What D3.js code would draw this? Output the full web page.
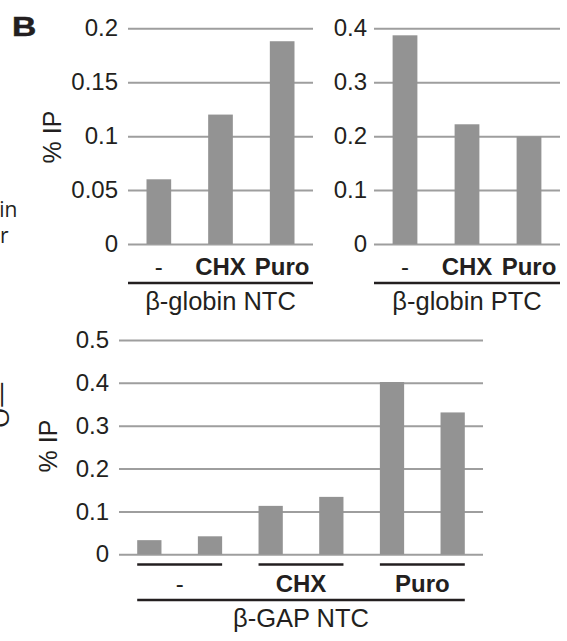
<!DOCTYPE html>
<html>
<head>
<meta charset="utf-8">
<script src="https://cdn.jsdelivr.net/npm/d3@7"></script>
<style>
  html, body { margin: 0; padding: 0; background: #fff; }
  svg { display: block; }
  text { font-family: "Liberation Sans", Arial, Helvetica, sans-serif; fill: #231f20; }
</style>
</head>
<body>
<svg id="chart" width="567" height="641"></svg>
<script>
// ---------- data ----------
const globinCategories = ["-", "CHX", "Puro"];
const globinNtcValues = [0.06, 0.12, 0.188];
const globinPtcValues = [0.387, 0.222, 0.199];
const ntcTicks = [0, 0.05, 0.1, 0.15, 0.2];
const ntcTickLabels = ["0", "0.05", "0.1", "0.15", "0.2"];
const ptcTicks = [0, 0.1, 0.2, 0.3, 0.4];
const ptcTickLabels = ["0", "0.1", "0.2", "0.3", "0.4"];
const gapGroups = ["-", "CHX", "Puro"];
const gapBars = ["-a", "-b", "CHX-a", "CHX-b", "Puro-a", "Puro-b"];
const gapValues = [0.033, 0.042, 0.113, 0.134, 0.402, 0.331];
const gapTicks = [0, 0.1, 0.2, 0.3, 0.4, 0.5];
const gapTickLabels = ["0", "0.1", "0.2", "0.3", "0.4", "0.5"];
const groupTitles = ["β-globin NTC", "β-globin PTC", "β-GAP NTC"];
const yTitle = "% IP";
const panelLetter = "B";

// ---------- styles ----------
const BAR = "#939393", GRID = "#9e9e9e", INK = "#231f20";
const svg = d3.select("#chart");

function panel(opts) {
  const { cats, values, ticks, labels, x0, x1, yTop, yBottom, domainMax, pad } = opts;
  const x = d3.scaleBand().domain(cats).range([x0, x1]).paddingInner(0.6).paddingOuter(0.3);
  const y = d3.scaleLinear().domain([0, domainMax]).range([yBottom, yTop]);
  const g = svg.append("g");
  const axis = d3.axisLeft(y).tickValues(ticks)
    .tickFormat((d, i) => labels[i])
    .tickSize(-(x1 - x0)).tickPadding(pad);
  const ax = g.append("g").attr("transform", `translate(${x0},0)`).call(axis);
  ax.select(".domain").remove();
  ax.selectAll(".tick line").attr("stroke", GRID).attr("stroke-width", 2);
  ax.selectAll(".tick text")
    .attr("font-size", 24).attr("fill", INK)
    .style("font-family", '"Liberation Sans", Arial, sans-serif');
  g.selectAll("rect.bar").data(values).join("rect")
    .attr("class", "bar")
    .attr("x", (d, i) => x(cats[i]))
    .attr("width", x.bandwidth())
    .attr("y", d => y(d))
    .attr("height", d => y(0) - y(d))
    .attr("fill", BAR);
  return { x, y, g };
}

// Panel 1: beta-globin NTC
const p1 = panel({ cats: globinCategories, values: globinNtcValues, ticks: ntcTicks, labels: ntcTickLabels,
  x0: 128, x1: 313, yTop: 28.3, yBottom: 244, domainMax: 0.2, pad: 10 });
// Panel 2: beta-globin PTC
const p2 = panel({ cats: globinCategories, values: globinPtcValues, ticks: ptcTicks, labels: ptcTickLabels,
  x0: 374, x1: 560, yTop: 28.3, yBottom: 244, domainMax: 0.4, pad: 7 });
// Panel 3: beta-GAP NTC
const p3 = panel({ cats: gapBars, values: gapValues, ticks: gapTicks, labels: gapTickLabels,
  x0: 119, x1: 483, yTop: 340, yBottom: 554.3, domainMax: 0.5, pad: 10 });

// Category labels + group lines for panels 1 and 2
[[p1, 128, 313, groupTitles[0]], [p2, 374, 560, groupTitles[1]]].forEach(([p, a, b, title]) => {
  p.g.selectAll("text.cat").data(globinCategories).join("text")
    .attr("class", "cat")
    .attr("x", d => p.x(d) + p.x.bandwidth() / 2)
    .attr("y", 275)
    .attr("text-anchor", "middle")
    .attr("font-size", 24)
    .attr("font-weight", d => d === "-" ? "normal" : "bold")
    .text(d => d);
  p.g.append("line").attr("x1", a).attr("x2", b).attr("y1", 283).attr("y2", 283)
    .attr("stroke", INK).attr("stroke-width", 2.5);
  p.g.append("text").attr("x", (a + b) / 2).attr("y", 310)
    .attr("text-anchor", "middle").attr("font-size", 25.5).text(title);
});

// Panel 3 group segments
gapGroups.forEach((grp, gi) => {
  const left = p3.x(gapBars[gi * 2]);
  const right = p3.x(gapBars[gi * 2 + 1]) + p3.x.bandwidth();
  p3.g.append("line").attr("x1", left).attr("x2", right).attr("y1", 564.5).attr("y2", 564.5)
    .attr("stroke", INK).attr("stroke-width", 2.5);
  p3.g.append("text").attr("x", (left + right) / 2).attr("y", 592)
    .attr("text-anchor", "middle").attr("font-size", 24)
    .attr("font-weight", grp === "-" ? "normal" : "bold").text(grp);
});
{
  const left = p3.x(gapBars[0]);
  const right = p3.x(gapBars[gapBars.length - 1]) + p3.x.bandwidth();
  p3.g.append("line").attr("x1", left).attr("x2", right).attr("y1", 600).attr("y2", 600)
    .attr("stroke", INK).attr("stroke-width", 2.5);
  p3.g.append("text").attr("x", (left + right) / 2).attr("y", 627)
    .attr("text-anchor", "middle").attr("font-size", 25.5).text(groupTitles[2]);
}

// Y axis titles
[[61, 137], [57, 446]].forEach(([bx, cy]) => {
  svg.append("text").attr("transform", `translate(${bx},${cy}) rotate(-90)`)
    .attr("text-anchor", "middle").attr("font-size", 25).text(yTitle);
});

// Panel letter (heavy, wide)
svg.append("text").attr("transform", "translate(12,36) scale(1.2,1)")
  .attr("font-size", 28).attr("font-weight", "bold")
  .attr("stroke", INK).attr("stroke-width", 0.5).text(panelLetter);

// Cropped fragments of neighbouring panel text at the left edge
const frag = { font: '"Open Sans", "Noto Sans", sans-serif' };
svg.append("text").attr("x", 17.5).attr("y", 217).attr("text-anchor", "end")
  .attr("font-size", 21).style("font-family", frag.font).text("in");
svg.append("text").attr("x", 8.5).attr("y", 243).attr("text-anchor", "end")
  .attr("font-size", 21).style("font-family", frag.font).text("r");
svg.append("text").attr("transform", "translate(9,428) rotate(-90)")
  .attr("font-size", 26).style("font-family", frag.font).text("O—");
</script>
</body>
</html>
